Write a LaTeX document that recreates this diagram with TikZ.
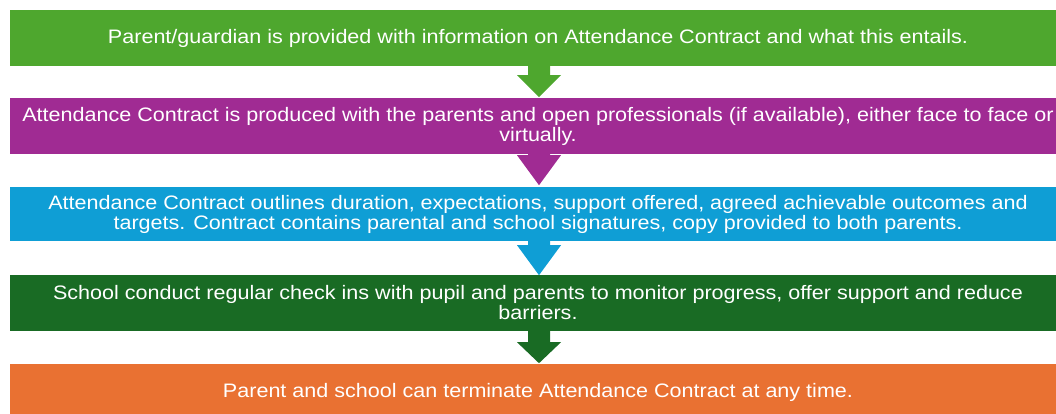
\documentclass[tikz,border=0pt]{standalone}
\usepackage{fontspec}
\setmainfont[FakeStretch=1.105]{Liberation Sans}
\usetikzlibrary{calc}
\definecolor{cgreen}{HTML}{4EA72E}
\definecolor{cpurple}{HTML}{A02B93}
\definecolor{cblue}{HTML}{0F9ED5}
\definecolor{cdark}{HTML}{196B24}
\definecolor{corange}{HTML}{E97132}
\begin{document}
\begin{tikzpicture}[x=1pt,y=-1pt,
  stepbox/.style={rectangle, inner sep=0pt, minimum width=1056pt, text=white, align=center,
    font=\fontsize{19.5}{20}\selectfont},
  ]
\useasboundingbox (0,0) rectangle (1056,414);
\begin{scope}
\clip (0,0) rectangle (1056,414);
\node[stepbox, fill=cgreen, minimum height=56pt] (b1) at (538,38) {Parent/guardian is provided with information on Attendance Contract and what this entails.};
\node[stepbox, fill=cpurple, minimum height=56pt] (b2) at (538,126) {Attendance Contract is produced with the parents and open professionals (if available), either face to face or\\virtually.};
\node[stepbox, fill=cblue, minimum height=54pt] (b3) at (538,214) {Attendance Contract outlines duration, expectations, support offered, agreed achievable outcomes and\\targets. Contract contains parental and school signatures, copy provided to both parents.};
\node[stepbox, fill=cdark, minimum height=56pt] (b4) at (538,303) {School conduct regular check ins with pupil and parents to monitor progress, offer support and reduce\\barriers.};
\node[stepbox, fill=corange, minimum height=56pt] (b5) at (538,392) {Parent and school can terminate Attendance Contract at any time.};
\end{scope}
% arrows
\fill[cgreen] ($(b1.south)+(-10,0)$) -- ($(b1.south)+(12,0)$) -- ($(b1.south)+(12,9)$) -- ($(b1.south)+(23,9)$) -- ($(b1.south)+(1,31)$) -- ($(b1.south)+(-21,9)$) -- ($(b1.south)+(-10,9)$) -- cycle;
\fill[cpurple] ($(b2.south)+(-10,-2)$) -- ($(b2.south)+(12,-2)$) -- ($(b2.south)+(12,1)$) -- ($(b2.south)+(23,1)$) -- ($(b2.south)+(1,31)$) -- ($(b2.south)+(-21,1)$) -- ($(b2.south)+(-10,1)$) -- cycle;
\fill[cblue] ($(b3.south)+(-10,0)$) -- ($(b3.south)+(12,0)$) -- ($(b3.south)+(12,4)$) -- ($(b3.south)+(23,4)$) -- ($(b3.south)+(1,34)$) -- ($(b3.south)+(-21,4)$) -- ($(b3.south)+(-10,4)$) -- cycle;
\fill[cdark] ($(b4.south)+(-10,0)$) -- ($(b4.south)+(12,0)$) -- ($(b4.south)+(12,11)$) -- ($(b4.south)+(23,11)$) -- ($(b4.south)+(1,32)$) -- ($(b4.south)+(-21,11)$) -- ($(b4.south)+(-10,11)$) -- cycle;
\end{tikzpicture}
\end{document}
